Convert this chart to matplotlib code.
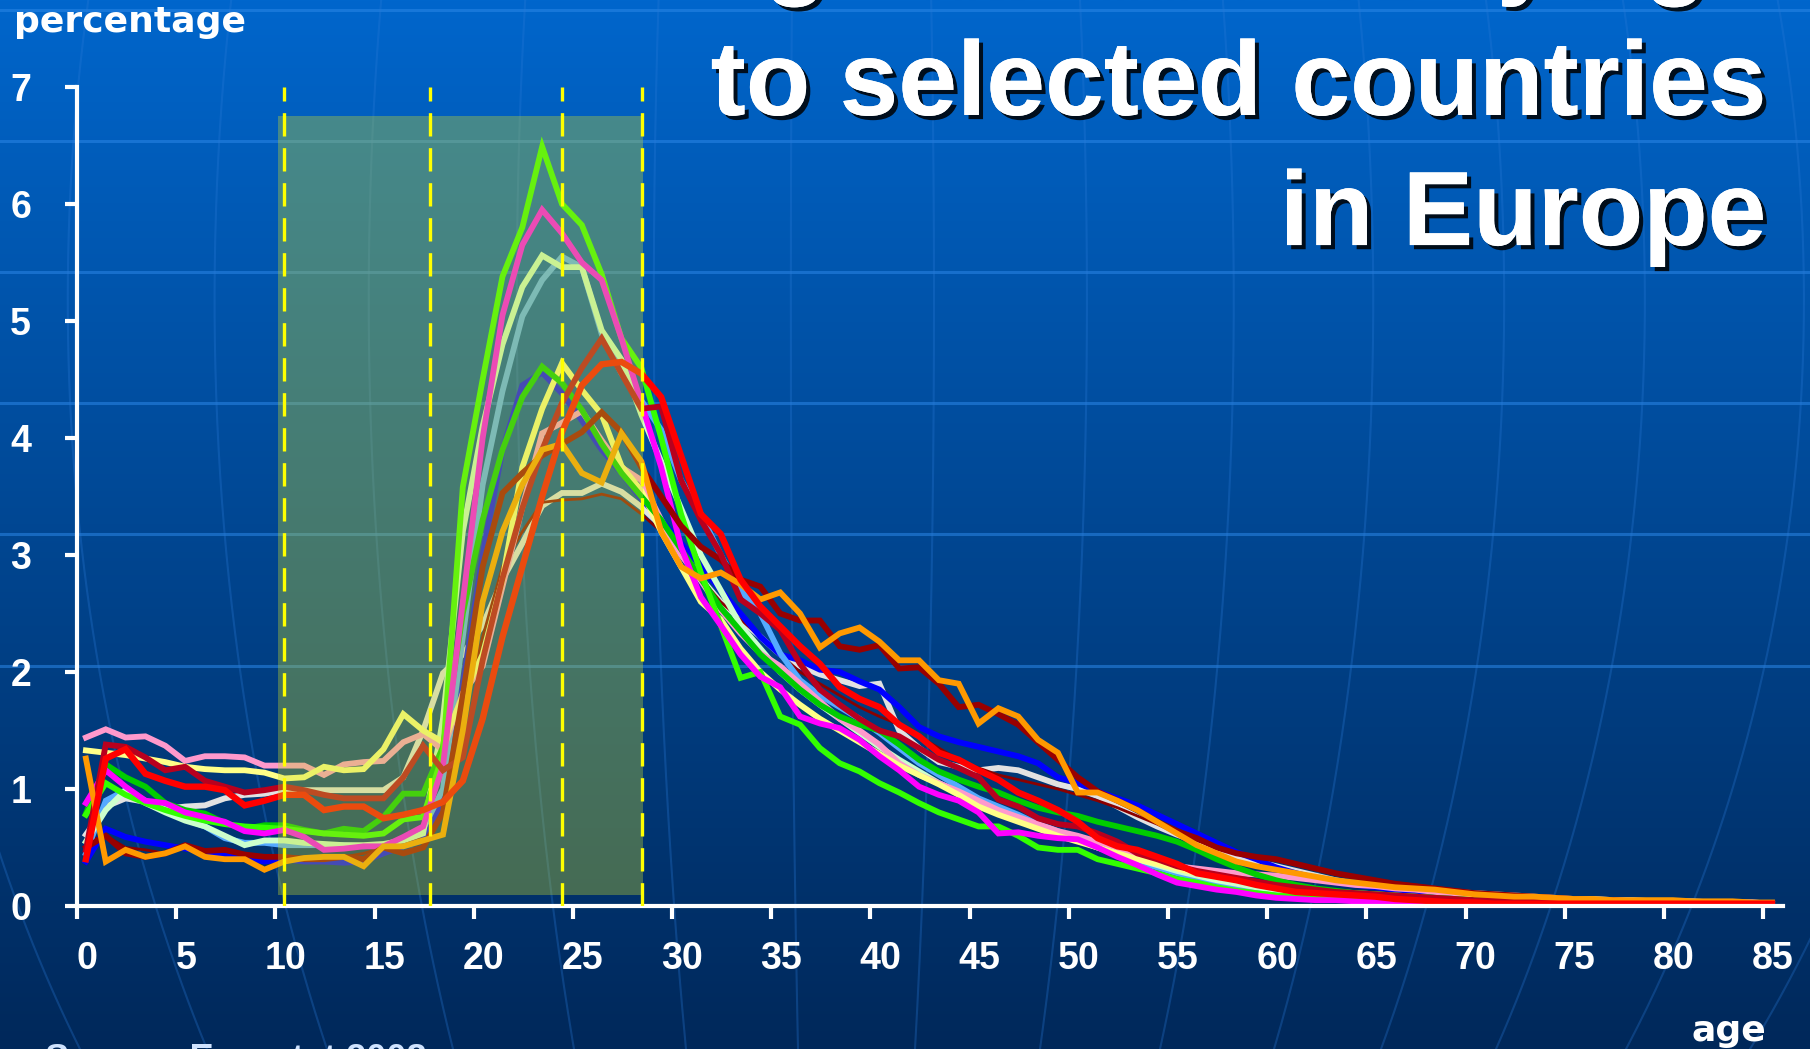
import numpy as np
import matplotlib
matplotlib.use('Agg')
import matplotlib.pyplot as plt
import matplotlib.patheffects as pe
import matplotlib.transforms as mtransforms
from matplotlib.patches import Rectangle

# ages 0..85, share of immigrants (%) by age, one list per country
ages = list(range(86))

lime = [0.78, 1.05, 0.95, 0.88, 0.82, 0.77, 0.73, 0.70, 0.68, 0.67,
        0.66, 0.64, 0.62, 0.61, 0.60, 0.62, 0.74, 0.76, 1.30, 3.58,
        4.50, 5.38, 5.80, 6.49, 6.00, 5.82, 5.40, 4.85, 4.60, 4.00,
        3.35, 2.85, 2.40, 1.95, 2.00, 1.62, 1.55, 1.35, 1.22, 1.15,
        1.05, 0.97, 0.88, 0.80, 0.74, 0.68, 0.68, 0.60, 0.50, 0.48,
        0.48, 0.40, 0.36, 0.32, 0.28, 0.23, 0.20, 0.16, 0.13, 0.11,
        0.09, 0.08, 0.07, 0.06, 0.05, 0.05, 0.04, 0.04, 0.03, 0.03,
        0.03, 0.02, 0.02, 0.02, 0.02, 0.02, 0.01, 0.01, 0.01, 0.01,
        0.01, 0.01, 0.01, 0.01, 0.01, 0.01]

magenta = [0.88, 1.16, 1.02, 0.90, 0.88, 0.80, 0.76, 0.72, 0.64, 0.62,
           0.65, 0.59, 0.48, 0.49, 0.51, 0.51, 0.59, 0.68, 1.20, 2.60,
           4.00, 5.05, 5.65, 5.95, 5.75, 5.50, 5.35, 4.85, 4.30, 3.75,
           3.07, 2.64, 2.40, 2.15, 1.96, 1.87, 1.62, 1.56, 1.52, 1.42,
           1.28, 1.16, 1.02, 0.95, 0.90, 0.80, 0.62, 0.63, 0.60, 0.58,
           0.57, 0.50, 0.42, 0.35, 0.27, 0.20, 0.17, 0.14, 0.12, 0.09,
           0.07, 0.06, 0.05, 0.05, 0.04, 0.04, 0.03, 0.03, 0.03, 0.02,
           0.02, 0.02, 0.02, 0.02, 0.02, 0.02, 0.01, 0.01, 0.01, 0.01,
           0.01, 0.01, 0.01, 0.01, 0.01, 0.01]

pale_green = [0.55, 0.82, 0.99, 0.88, 0.80, 0.73, 0.68, 0.60, 0.52, 0.56,
              0.56, 0.54, 0.53, 0.52, 0.52, 0.53, 0.56, 0.62, 1.60, 3.20,
              4.10, 4.80, 5.29, 5.56, 5.46, 5.46, 4.92, 4.67, 4.20, 3.80,
              3.40, 3.00, 2.70, 2.40, 2.20, 2.00, 1.85, 1.72, 1.60, 1.48,
              1.36, 1.25, 1.15, 1.05, 0.97, 0.88, 0.80, 0.74, 0.68, 0.62,
              0.56, 0.50, 0.45, 0.40, 0.35, 0.30, 0.26, 0.22, 0.19, 0.16,
              0.14, 0.12, 0.10, 0.09, 0.08, 0.07, 0.06, 0.05, 0.05, 0.04,
              0.04, 0.03, 0.03, 0.03, 0.03, 0.02, 0.02, 0.02, 0.02, 0.02,
              0.02, 0.01, 0.01, 0.01, 0.01, 0.01]

light_blue = [0.45, 0.90, 0.99, 0.90, 0.81, 0.74, 0.68, 0.58, 0.54, 0.54,
              0.52, 0.52, 0.52, 0.52, 0.51, 0.52, 0.57, 0.66, 1.00, 2.30,
              3.60, 4.40, 5.04, 5.35, 5.55, 5.46, 4.89, 4.55, 4.32, 4.07,
              3.64, 3.35, 3.00, 2.70, 2.50, 2.16, 1.93, 1.80, 1.70, 1.60,
              1.48, 1.35, 1.22, 1.12, 1.02, 0.92, 0.85, 0.78, 0.70, 0.64,
              0.58, 0.50, 0.44, 0.38, 0.33, 0.28, 0.24, 0.20, 0.17, 0.14,
              0.12, 0.10, 0.09, 0.08, 0.07, 0.06, 0.05, 0.05, 0.04, 0.04,
              0.03, 0.03, 0.03, 0.02, 0.02, 0.02, 0.02, 0.02, 0.01, 0.01,
              0.01, 0.01, 0.01, 0.01, 0.01, 0.01]

blue = [0.38, 0.66, 0.59, 0.55, 0.52, 0.49, 0.47, 0.43, 0.41, 0.38,
        0.40, 0.38, 0.38, 0.37, 0.38, 0.45, 0.51, 0.56, 0.90, 1.90,
        3.00, 3.90, 4.45, 4.56, 4.38, 4.15, 3.90, 3.70, 3.48, 3.30,
        3.10, 2.90, 2.70, 2.50, 2.30, 2.15, 2.10, 2.02, 2.00, 1.92,
        1.85, 1.70, 1.53, 1.45, 1.40, 1.36, 1.32, 1.28, 1.22, 1.10,
        1.05, 0.98, 0.92, 0.86, 0.78, 0.70, 0.62, 0.54, 0.46, 0.40,
        0.33, 0.28, 0.24, 0.20, 0.18, 0.16, 0.14, 0.12, 0.11, 0.10,
        0.09, 0.08, 0.07, 0.06, 0.05, 0.05, 0.04, 0.04, 0.03, 0.03,
        0.03, 0.02, 0.02, 0.02, 0.02, 0.02]

green = [0.79, 1.21, 1.10, 1.02, 0.88, 0.82, 0.79, 0.71, 0.66, 0.69,
         0.69, 0.65, 0.62, 0.66, 0.64, 0.76, 0.96, 0.96, 1.36, 2.50,
         3.30, 3.90, 4.35, 4.61, 4.47, 4.24, 3.95, 3.70, 3.50, 3.30,
         3.05, 2.80, 2.55, 2.35, 2.15, 2.00, 1.85, 1.72, 1.62, 1.55,
         1.50, 1.38, 1.25, 1.15, 1.08, 1.02, 0.97, 0.90, 0.84, 0.80,
         0.77, 0.72, 0.68, 0.64, 0.60, 0.55, 0.48, 0.40, 0.33, 0.27,
         0.22, 0.18, 0.15, 0.13, 0.11, 0.10, 0.09, 0.08, 0.07, 0.06,
         0.05, 0.05, 0.04, 0.04, 0.04, 0.03, 0.03, 0.03, 0.03, 0.02,
         0.02, 0.02, 0.02, 0.02, 0.02, 0.02]

yellow = [1.33, 1.31, 1.29, 1.26, 1.23, 1.19, 1.17, 1.16, 1.16, 1.14,
          1.09, 1.10, 1.19, 1.16, 1.17, 1.34, 1.64, 1.50, 1.40, 1.79,
          2.15, 2.79, 3.75, 4.25, 4.64, 4.41, 4.20, 3.76, 3.55, 3.20,
          2.90, 2.60, 2.45, 2.20, 2.00, 1.85, 1.72, 1.60, 1.50, 1.40,
          1.30, 1.20, 1.12, 1.04, 0.95, 0.85, 0.78, 0.72, 0.66, 0.60,
          0.55, 0.50, 0.45, 0.40, 0.36, 0.32, 0.28, 0.25, 0.22, 0.19,
          0.17, 0.15, 0.13, 0.12, 0.11, 0.10, 0.09, 0.08, 0.07, 0.06,
          0.06, 0.05, 0.05, 0.04, 0.04, 0.04, 0.03, 0.03, 0.03, 0.03,
          0.02, 0.02, 0.02, 0.02, 0.02, 0.02]

pink = [1.44, 1.51, 1.44, 1.45, 1.37, 1.24, 1.28, 1.28, 1.27, 1.20,
        1.20, 1.20, 1.12, 1.21, 1.23, 1.24, 1.40, 1.47, 1.33, 1.82,
        2.05, 2.73, 3.41, 4.04, 4.13, 4.23, 3.98, 3.75, 3.64, 3.30,
        3.00, 2.78, 2.53, 2.33, 2.16, 2.05, 1.90, 1.75, 1.60, 1.50,
        1.38, 1.22, 1.12, 1.05, 0.98, 0.90, 0.82, 0.76, 0.70, 0.64,
        0.60, 0.55, 0.50, 0.44, 0.38, 0.34, 0.32, 0.30, 0.28, 0.27,
        0.26, 0.24, 0.22, 0.20, 0.18, 0.17, 0.15, 0.14, 0.12, 0.11,
        0.10, 0.09, 0.08, 0.07, 0.06, 0.06, 0.05, 0.05, 0.04, 0.04,
        0.04, 0.03, 0.03, 0.03, 0.03, 0.02]

orange = [1.26, 0.38, 0.48, 0.42, 0.45, 0.51, 0.42, 0.40, 0.40, 0.31,
          0.38, 0.41, 0.42, 0.42, 0.34, 0.51, 0.51, 0.56, 0.61, 1.50,
          2.60, 3.20, 3.60, 3.90, 3.95, 3.70, 3.62, 4.04, 3.80, 3.20,
          2.90, 2.80, 2.85, 2.75, 2.62, 2.68, 2.50, 2.21, 2.33, 2.38,
          2.26, 2.10, 2.10, 1.93, 1.90, 1.56, 1.69, 1.62, 1.42, 1.31,
          0.97, 0.97, 0.90, 0.82, 0.72, 0.62, 0.52, 0.45, 0.38, 0.34,
          0.31, 0.28, 0.25, 0.22, 0.20, 0.18, 0.16, 0.15, 0.14, 0.12,
          0.10, 0.09, 0.08, 0.08, 0.07, 0.06, 0.06, 0.05, 0.05, 0.05,
          0.05, 0.04, 0.04, 0.04, 0.03, 0.03]

crimson = [0.48, 1.38, 1.36, 1.27, 1.16, 1.19, 1.07, 1.02, 0.97, 0.99,
           1.02, 0.99, 0.95, 0.92, 0.92, 0.92, 1.10, 1.37, 1.16, 1.27,
           2.10, 2.80, 3.40, 3.90, 4.30, 4.60, 4.85, 4.55, 4.25, 4.27,
           3.64, 3.30, 3.01, 2.62, 2.50, 2.36, 2.07, 1.85, 1.72, 1.60,
           1.50, 1.45, 1.35, 1.25, 1.18, 1.10, 0.91, 0.85, 0.75, 0.70,
           0.68, 0.62, 0.55, 0.45, 0.40, 0.34, 0.30, 0.27, 0.24, 0.21,
           0.18, 0.16, 0.14, 0.12, 0.11, 0.10, 0.09, 0.08, 0.07, 0.06,
           0.05, 0.05, 0.04, 0.04, 0.03, 0.03, 0.03, 0.03, 0.02, 0.02,
           0.02, 0.02, 0.02, 0.02, 0.02, 0.01]

red = [0.40, 1.26, 1.34, 1.13, 1.07, 1.02, 1.02, 0.99, 0.86, 0.90,
       0.95, 0.95, 0.82, 0.85, 0.85, 0.75, 0.78, 0.82, 0.89, 1.07,
       1.60, 2.30, 2.90, 3.50, 4.05, 4.45, 4.63, 4.65, 4.55, 4.35,
       3.85, 3.35, 3.18, 2.79, 2.56, 2.39, 2.22, 2.07, 1.87, 1.77,
       1.70, 1.55, 1.45, 1.31, 1.25, 1.16, 1.08, 0.97, 0.90, 0.82,
       0.72, 0.58, 0.51, 0.48, 0.42, 0.36, 0.28, 0.25, 0.22, 0.18,
       0.15, 0.12, 0.11, 0.10, 0.09, 0.08, 0.06, 0.05, 0.04, 0.03,
       0.03, 0.02, 0.02, 0.02, 0.02, 0.02, 0.02, 0.02, 0.02, 0.02,
       0.02, 0.02, 0.02, 0.02, 0.02, 0.02]

grey = [0.61, 0.85, 0.92, 0.89, 0.83, 0.85, 0.86, 0.92, 0.95, 0.96,
        0.99, 0.99, 0.99, 0.99, 0.99, 0.99, 1.10, 1.50, 1.99, 2.15,
        2.40, 2.79, 3.10, 3.42, 3.53, 3.53, 3.61, 3.54, 3.41, 3.25,
        3.05, 2.80, 2.60, 2.45, 2.30, 2.15, 2.05, 1.98, 1.93, 1.88,
        1.90, 1.50, 1.35, 1.23, 1.19, 1.16, 1.18, 1.16, 1.10, 1.04,
        1.00, 0.94, 0.85, 0.76, 0.68, 0.61, 0.55, 0.48, 0.42, 0.38,
        0.34, 0.30, 0.26, 0.22, 0.19, 0.17, 0.16, 0.15, 0.14, 0.12,
        0.11, 0.10, 0.09, 0.08, 0.07, 0.06, 0.06, 0.05, 0.05, 0.04,
        0.04, 0.04, 0.03, 0.03, 0.03, 0.02]

dark_thin = [0.55, 0.60, 0.50, 0.48, 0.45, 0.50, 0.47, 0.45, 0.44, 0.43,
             0.42, 0.42, 0.42, 0.42, 0.45, 0.50, 0.52, 0.60, 0.90, 1.60,
             2.30, 2.90, 3.20, 3.45, 3.47, 3.48, 3.52, 3.48, 3.35, 3.20,
             3.00, 2.80, 2.60, 2.45, 2.30, 2.15, 2.00, 1.90, 1.80, 1.70,
             1.62, 1.55, 1.45, 1.35, 1.25, 1.18, 1.12, 1.08, 1.04, 1.00,
             0.95, 0.90, 0.84, 0.77, 0.70, 0.62, 0.56, 0.50, 0.45, 0.42,
             0.40, 0.36, 0.32, 0.28, 0.25, 0.22, 0.20, 0.18, 0.16, 0.14,
             0.12, 0.11, 0.10, 0.09, 0.08, 0.07, 0.06, 0.06, 0.05, 0.05,
             0.04, 0.04, 0.04, 0.03, 0.03, 0.03]

maroon = [0.50, 0.60, 0.45, 0.42, 0.45, 0.52, 0.47, 0.48, 0.44, 0.42,
          0.42, 0.40, 0.40, 0.42, 0.40, 0.50, 0.45, 0.50, 0.80, 1.80,
          2.90, 3.53, 3.70, 3.85, 3.95, 4.05, 4.22, 4.05, 3.75, 3.50,
          3.25, 3.07, 2.96, 2.79, 2.73, 2.50, 2.44, 2.44, 2.22, 2.19,
          2.23, 2.03, 2.04, 1.90, 1.70, 1.72, 1.64, 1.55, 1.40, 1.25,
          1.10, 0.98, 0.90, 0.82, 0.72, 0.64, 0.58, 0.50, 0.45, 0.42,
          0.40, 0.36, 0.32, 0.28, 0.25, 0.22, 0.19, 0.17, 0.15, 0.13,
          0.11, 0.10, 0.09, 0.08, 0.07, 0.06, 0.05, 0.05, 0.04, 0.04,
          0.03, 0.03, 0.03, 0.02, 0.02, 0.02]

# drawing order, colour, width
series = [
    (grey, '#e2e2e2', 4.2),
    (dark_thin, '#8a0000', 2.0),
    (blue, '#0000ff', 4.2),
    (light_blue, '#55aaff', 4.2),
    (pale_green, '#ccffcc', 4.2),
    (pink, '#ff99cc', 4.2),
    (yellow, '#ffff88', 4.2),
    (green, '#00cc00', 4.2),
    (lime, '#33ff00', 4.2),
    (magenta, '#ff00ff', 4.2),
    (maroon, '#990000', 4.2),
    (crimson, '#b8001e', 4.2),
    (orange, '#ff9900', 4.2),
    (red, '#ff0000', 4.6),
]

dash_x = [10.45, 17.8, 24.45, 28.5]
x_ticks = list(range(0, 86, 5))
y_ticks = list(range(0, 8))

fig = plt.figure(figsize=(18.1, 10.49), dpi=100)

# slide background
bg = fig.add_axes([0, 0, 1, 1])
bg.set_xlim(0, 1810)
bg.set_ylim(1049, 0)
bg.axis('off')
t = np.linspace(0, 1, 512)[:, None, None]
top_c = np.array([0, 102, 204]) / 255
bot_c = np.array([0, 40, 90]) / 255
bg.imshow(top_c + (bot_c - top_c) * t, extent=[0, 1810, 1049, 0], aspect='auto')
for yy in [10, 141, 272, 403, 534, 666]:
    bg.plot([0, 1810], [yy, yy], color='#2a86e6', alpha=0.55, lw=2.2)
ys = np.linspace(0, 1049, 200)
for xb in [80, 207, 327, 453, 574, 686, 798, 915, 1040, 1160, 1274, 1381, 1496, 1626, 1750]:
    amp = (xb - 830) / 0.8173
    bg.plot(830 + amp * np.sqrt(1 - ((ys - 300) / 1300) ** 2), ys,
            color='#2a7ad8', alpha=0.3, lw=1.5)

ax = fig.add_axes([0.04254, 0.13632, 0.9425, 0.78074])
ax.set_facecolor('none')
xs = np.array(ages) + 0.45
for vals, col, lw in series:
    ax.plot(xs, vals, color=col, lw=lw, zorder=2, solid_joinstyle='miter')

ax.add_patch(Rectangle((10.12, 0.095), 18.4, 6.655, facecolor='#c8d92b',
                       alpha=0.35, edgecolor='none', zorder=3))
for xv in dash_x:
    ax.plot([xv, xv], [0, 7], color='#ffff00', lw=2.4, dashes=(7, 3.5), zorder=4)

ax.set_xlim(0, 86)
ax.set_ylim(0, 7)
for s in ['top', 'right']:
    ax.spines[s].set_visible(False)
for s in ['left', 'bottom']:
    ax.spines[s].set_color('white')
    ax.spines[s].set_linewidth(3)
ax.spines['left'].set_bounds(0, 7)
ax.set_xticks(x_ticks)
ax.set_yticks(y_ticks)
ax.tick_params(colors='white', width=3, length=9, direction='out', labelsize=27)
ax.tick_params(axis='x', pad=16)
ax.tick_params(axis='y', pad=24)
shift = mtransforms.ScaledTranslation(0.1, 0, fig.dpi_scale_trans)
for lbl in ax.get_xticklabels():
    lbl.set_fontfamily('Liberation Sans')
    lbl.set_fontweight('bold')
    lbl.set_transform(lbl.get_transform() + shift)
for lbl in ax.get_yticklabels():
    lbl.set_fontfamily('Liberation Sans')
    lbl.set_fontweight('bold')

shadow = [pe.withSimplePatchShadow(offset=(3, -3), shadow_rgbFace='black', alpha=0.85),
          pe.Normal()]
title_lines = ['Immigration rates by age', 'to selected countries', 'in Europe']
for line, yb in zip(title_lines, [1.0143, 0.8904, 0.7664]):
    fig.text(0.9757, yb, line, ha='right', va='baseline', fontsize=76,
             color='white', fontweight='bold', family='Liberation Sans',
             path_effects=shadow)

fig.text(0.0077, 0.9695, 'percentage', va='baseline', fontsize=26, color='white',
         fontweight='bold', family='DejaVu Sans')
fig.text(0.9757, 0.0076, 'age', ha='right', va='baseline', fontsize=26,
         color='white', fontweight='bold', family='DejaVu Sans')
fig.text(0.025, 0.0057, 'Source: Eurostat 2008', va='top', fontsize=26,
         color='#cfe3ff', fontweight='bold', family='Liberation Sans')

fig.savefig('out.png', dpi=100)
